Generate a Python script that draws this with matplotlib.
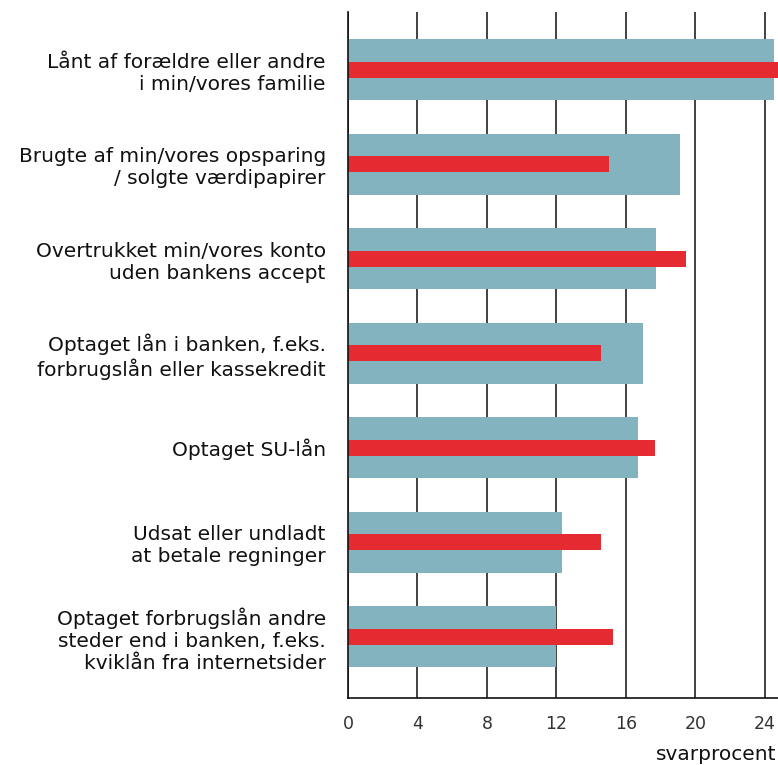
import matplotlib.pyplot as plt
import numpy as np

kategorier = [
    "Lånt af forældre eller andre\ni min/vores familie",
    "Brugte af min/vores opsparing\n/ solgte værdipapirer",
    "Overtrukket min/vores konto\nuden bankens accept",
    "Optaget lån i banken, f.eks.\nforbrugslån eller kassekredit",
    "Optaget SU-lån",
    "Udsat eller undladt\nat betale regninger",
    "Optaget forbrugslån andre\nsteder end i banken, f.eks.\nkviklån fra internetsider",
]
bred = [24.5, 19.1, 17.7, 17.0, 16.7, 12.3, 12.0]
smal = [25.2, 15.0, 19.45, 14.55, 17.65, 14.55, 15.25]
xticks = [0, 4, 8, 12, 16, 20, 24]

teal = "#83B3BE"
rod = "#E62A32"

fig = plt.figure(figsize=(7.78, 7.65), dpi=100)
ax = fig.add_axes([348 / 778, 1 - 698 / 765, 430 / 778, 686 / 765])

y = np.arange(len(kategorier))
ax.barh(y, bred, height=0.645, color=teal, zorder=2)
ax.barh(y, smal, height=0.17, color=rod, zorder=3)

ax.set_xlim(0, 24.75)
ax.set_ylim(6.65, -0.61)
ax.set_xticks(xticks)
ax.set_xticklabels([str(t) for t in xticks], fontsize=12.5, color="#333333")
ax.set_yticks(y)
ax.set_yticklabels(kategorier, fontsize=14.5, color="#111111", linespacing=1.2)
ax.tick_params(axis="y", length=0, pad=16)
ax.tick_params(axis="x", length=0, pad=12)
ax.grid(axis="x", color="#333333", linewidth=1.3, zorder=1)
ax.set_axisbelow(True)

for s in ["top", "right"]:
    ax.spines[s].set_visible(False)
ax.spines["left"].set_color("#111111")
ax.spines["bottom"].set_color("#111111")
ax.spines["left"].set_linewidth(1.2)
ax.spines["bottom"].set_linewidth(1.2)
ax.spines["left"].set_zorder(4)

fig.text(776 / 778, 1 - 755 / 765, "svarprocent", ha="right", va="center",
         fontsize=14.5, color="#111111")

fig.savefig("out.png", dpi=100)
